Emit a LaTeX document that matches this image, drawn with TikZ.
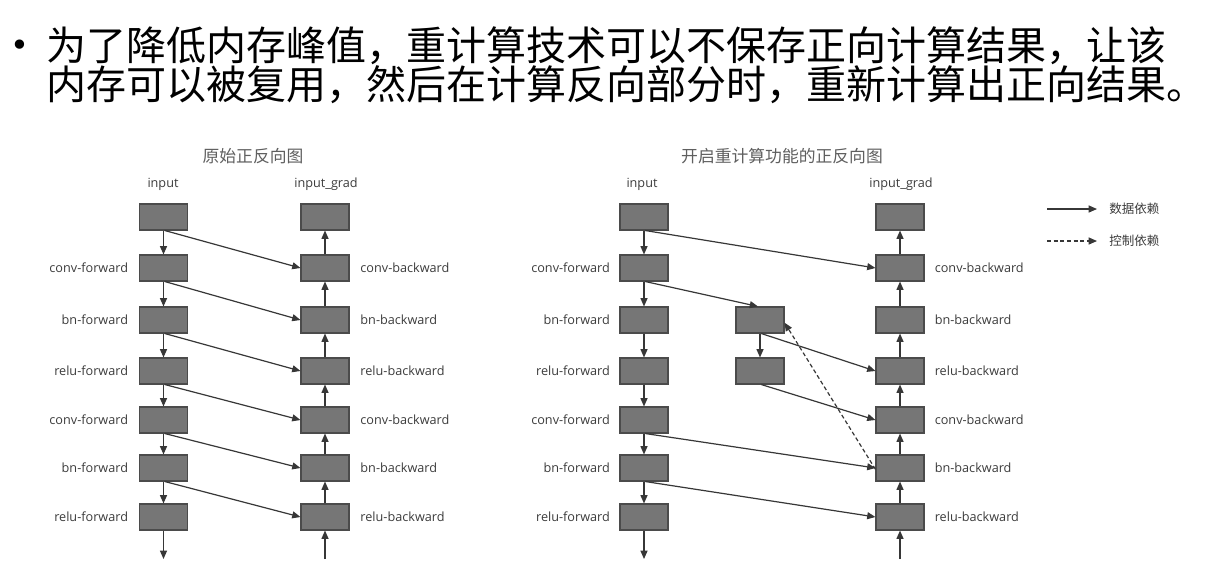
\documentclass[tikz,border=0pt]{standalone}
\usepackage{fontspec}
\setmainfont{Open Sans}
\newfontfamily\cjk{Noto Sans CJK SC}
\newfontfamily\dejavu{DejaVu Sans}
\usetikzlibrary{arrows.meta}
\definecolor{boxfill}{RGB}{118,118,118}
\definecolor{boxline}{RGB}{75,75,75}
\definecolor{linecol}{RGB}{55,55,55}
\definecolor{lblcol}{RGB}{60,60,60}
\definecolor{titlecol}{RGB}{95,95,95}
\begin{document}
\begin{tikzpicture}[x=0.75pt,y=-0.75pt,
  box/.style={draw=boxline, fill=boxfill, line width=0.8pt, minimum width=36pt, minimum height=19.5pt, inner sep=0pt},
  lbl/.style={font=\fontsize{9.5}{11}\selectfont, text=lblcol, inner sep=0pt},
  ttl/.style={font=\cjk\fontsize{12.6}{14}\selectfont, text=titlecol, inner sep=0pt},
  leg/.style={font=\cjk\fontsize{9.4}{10}\selectfont, text=lblcol, inner sep=0pt},
  head/.style={font=\cjk\fontsize{30}{32}\selectfont, text=black, inner sep=0pt, anchor=west},
  bulletstyle/.style={font=\dejavu\fontsize{24}{26}\selectfont, text=black, inner sep=0pt},
  conn/.style={draw=linecol, line width=0.9pt, -{Triangle[length=6.2pt,width=5.2pt]}},
  ctrl/.style={conn, dash pattern=on 3pt off 2pt}]
\useasboundingbox (0,0) rectangle (1210,578);
\fill[white] (0,0) rectangle (1210,578);

% heading
\node[bulletstyle] (bul) at (20,48) {•};
\node[head] (h1) at (46,46) {为了降低内存峰值，重计算技术可以不保存正向计算结果，让该};
\node[head] (h2) at (46,85) {内存可以被复用，然后在计算反向部分时，重新计算出正向结果。};

% titles
\node[ttl] (t1) at (253,156) {原始正反向图};
\node[ttl] (t2) at (782,156) {开启重计算功能的正反向图};

% boxes
\foreach \i/\y in {0/217,1/268,2/320,3/371,4/420,5/468,6/517}{
  \node[box] (Lf\i) at (163.5,\y) {};
  \node[box] (Lb\i) at (325,\y) {};
  \node[box] (Rf\i) at (644,\y) {};
  \node[box] (Rb\i) at (900,\y) {};
}
\node[box] (Rr2) at (760,320) {};
\node[box] (Rr3) at (760,371) {};

\node[lbl] (Lin) at (163,184) {input};
\node[lbl] (Lgr) at (326,184) {input\_grad};
\node[lbl] (Rin) at (642,184) {input};
\node[lbl] (Rgr) at (901,184) {input\_grad};

\foreach \i/\t in {1/conv-forward,2/bn-forward,3/relu-forward,4/conv-forward,5/bn-forward,6/relu-forward}{
  \node[lbl, anchor=east] (Lfl\i) at ([xshift=-8pt]Lf\i.west) {\t};
  \node[lbl, anchor=east] (Rfl\i) at ([xshift=-7pt]Rf\i.west) {\t};
}
\foreach \i/\t in {1/conv-backward,2/bn-backward,3/relu-backward,4/conv-backward,5/bn-backward,6/relu-backward}{
  \node[lbl, anchor=west] (Lbl\i) at ([xshift=8pt]Lb\i.east) {\t};
  \node[lbl, anchor=west] (Rbl\i) at ([xshift=7.5pt]Rb\i.east) {\t};
}

\coordinate (Lend) at (163.5,559);
\coordinate (Lbeg) at (325,559);
\coordinate (Rend) at (644,559);
\coordinate (Rbeg) at (900,559);

% vertical chains
\foreach \i/\j in {0/1,1/2,2/3,3/4,4/5,5/6}{
  \draw[conn] (Lf\i.south) -- (Lf\j.north);
  \draw[conn] (Lb\j.north) -- (Lb\i.south);
  \draw[conn] (Rf\i.south) -- (Rf\j.north);
  \draw[conn] (Rb\j.north) -- (Rb\i.south);
}
\draw[conn] (Lf6.south) -- (Lend);
\draw[conn] (Lbeg) -- (Lb6.south);
\draw[conn] (Rf6.south) -- (Rend);
\draw[conn] (Rbeg) -- (Rb6.south);

% left diagonals
\foreach \i/\j in {0/1,1/2,2/3,3/4,4/5,5/6}{
  \draw[conn] ([xshift=1pt]Lf\i.south) -- (Lb\j.west);
}

% right diagram connections
\draw[conn] ([xshift=1pt]Rf0.south) -- (Rb1.west);
\draw[conn] ([xshift=1pt]Rf1.south) -- ([xshift=-1.5pt]Rr2.north);
\draw[conn] (Rr2.south) -- (Rr3.north);
\draw[conn] ([xshift=1pt]Rr2.south) -- (Rb3.west);
\draw[conn] ([xshift=1pt]Rr3.south) -- (Rb4.west);
\draw[conn] ([xshift=1pt]Rf4.south) -- (Rb5.west);
\draw[conn] ([xshift=1pt]Rf5.south) -- (Rb6.west);
\draw[ctrl] ([yshift=-1pt]Rb5.west) -- ([yshift=-2pt]Rr2.east);

% legend
\coordinate (ls1) at (1047,209);
\coordinate (le1) at (1097,209);
\coordinate (ls2) at (1047,241);
\coordinate (le2) at (1097,241);
\draw[conn] (ls1) -- (le1);
\draw[ctrl] (ls2) -- (le2);
\node[leg, anchor=west] (lg1) at (1109,209) {数据依赖};
\node[leg, anchor=west] (lg2) at (1109,241) {控制依赖};
\end{tikzpicture}
\end{document}
